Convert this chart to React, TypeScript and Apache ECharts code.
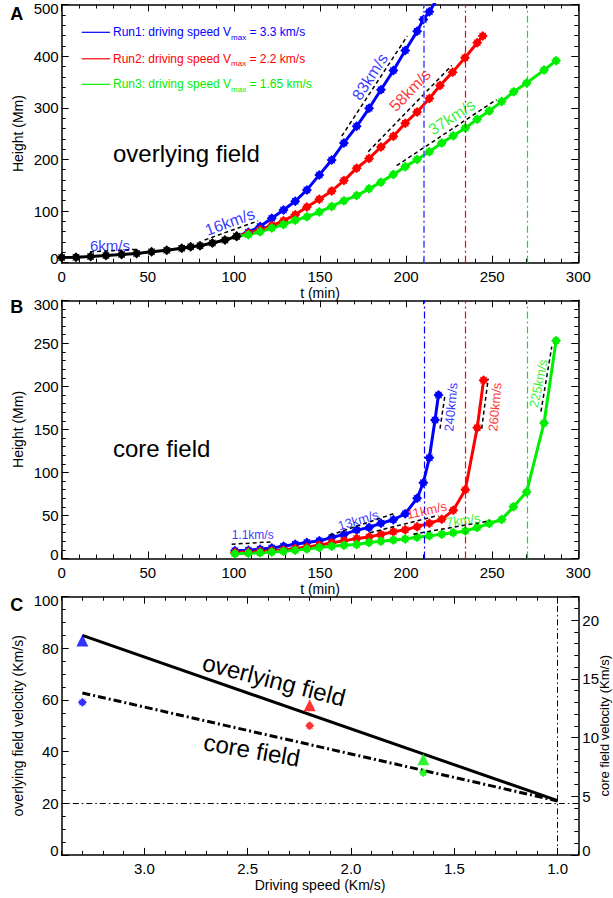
import React, { useEffect, useRef } from 'react';
import * as echarts from 'echarts';

// ---------- Panel A: overlying field height (Mm) vs t (min) ----------
const sharedOverlying: number[][] = [[0, 10], [8.3, 10.5], [16.8, 12], [25.7, 14], [34.8, 16], [43.5, 18], [52.2, 21], [61, 24], [69.7, 28], [74.9, 31], [80.3, 33], [87.5, 38], [94.8, 44], [101.6, 51]];
const run1Overlying: number[][] = [[101.6, 51], [108.4, 59], [115.2, 70], [122, 86], [128.8, 102], [135.6, 119], [142.4, 141], [149.6, 170], [156.8, 199], [163.9, 232], [171.3, 264], [178.5, 299], [185.4, 335], [192.6, 372], [199.5, 411], [206.4, 448], [210, 471], [213.5, 486], [217, 505]];
const run2Overlying: number[][] = [[101.6, 51], [108.4, 57], [115.2, 64], [122, 72], [128.8, 81], [135.6, 93], [142.4, 108], [149.6, 123], [156.8, 139], [163.9, 159], [171.3, 183], [178.5, 202], [185.4, 224], [192.6, 245], [199.5, 270], [206.4, 292], [213.5, 318], [219.7, 343], [227, 369], [234.2, 397], [241.3, 426], [244.5, 439]];
const run3Overlying: number[][] = [[101.6, 51], [108.4, 54], [115.2, 60], [122, 67], [128.8, 74], [135.6, 82], [142.4, 89], [149.6, 98], [156.8, 109], [163.9, 120], [171.3, 130], [178.5, 143], [185.4, 156], [192.6, 171], [199.5, 186], [206.4, 200], [213.5, 215], [220.7, 232], [227.4, 246], [234.4, 261], [241.3, 278], [248.3, 294], [255.5, 312], [262.5, 331], [270, 348], [280.1, 373], [287.1, 391]];

// ---------- Panel B: core field height (Mm) vs t (min) ----------
const run1Core: number[][] = [[100.6, 9], [108.4, 9.6], [115.2, 10.8], [122, 12.3], [128.8, 14.3], [135.6, 16.6], [142.4, 18.6], [149.6, 20.5], [156.8, 24.4], [163.9, 28], [171.3, 33], [178.5, 36], [185.4, 41], [192.6, 45], [199.5, 52], [206.4, 70], [210, 88], [213.5, 117], [216.8, 161], [218.8, 190]];
const run2Core: number[][] = [[100.6, 7], [108.4, 7.5], [115.2, 8.2], [122, 9], [128.8, 10], [135.6, 11.5], [142.4, 13.5], [149.6, 15.5], [156.8, 18.2], [163.9, 20.5], [171.3, 23.2], [178.5, 25.1], [185.4, 27.9], [192.6, 31], [199.5, 33.3], [206.4, 37], [213.5, 41], [220.7, 45.5], [227.4, 56], [234.4, 80], [241.3, 152], [245, 207]];
const run3Core: number[][] = [[100.6, 5.5], [108.4, 6], [115.2, 6.8], [122, 7.5], [128.8, 8.5], [135.6, 9.5], [142.4, 11], [149.6, 12.8], [156.8, 14.3], [163.9, 15.5], [171.3, 16.3], [178.5, 18.6], [185.4, 20], [192.6, 21.5], [199.5, 22.7], [206.4, 24.7], [213.5, 26.3], [220.7, 28.3], [227.4, 29.8], [234.4, 31.9], [241.3, 36], [248.3, 40.7], [255.5, 45.3], [262.3, 60], [270, 77.4], [280.1, 157.5], [287.1, 253]];

// times of the eruption onset (vertical dash-dot lines), Run1..Run3
const eruptionTimes: number[] = [210.5, 234.4, 270.4];

// linear velocity fits (dashed segments), [t, h]
const fit6: number[][] = [[16.5, 21], [44.5, 26]];
const fit16: number[][] = [[83, 44], [114, 81]];
const fit83: number[][] = [[162.6, 245], [200.7, 439]];
const fit58: number[][] = [[178, 215], [226.5, 382]];
const fit37: number[][] = [[194.5, 188], [252.6, 316]];
const fit1p1: number[][] = [[98.7, 16.6], [122.5, 19.4]];
const fit13: number[][] = [[155.8, 27], [192.6, 52]];
const fit11: number[][] = [[179, 30], [218.7, 50]];
const fit7: number[][] = [[204.2, 28.3], [248.7, 43.8]];
const fit240: number[][] = [[219.7, 151], [222.6, 190]];
const fit260: number[][] = [[243.9, 151], [247.7, 209]];
const fit225: number[][] = [[278.3, 170.6], [284.6, 246.2]];

// ---------- Panel C ----------
const drivingSpeed: number[] = [3.3, 2.2, 1.65];
const overlyingVelocity: number[] = [83, 58, 37];
const coreVelocity: number[] = [13, 11, 7];
const overlyingTrend: number[][] = [[3.3, 85], [1.0, 21]];
const coreTrend: number[][] = [[3.3, 13.8], [1.0, 4.6]];
const refVelocity = 20;
const refSpeed = 1.0;
const speedRange: number[] = [0.9, 3.4];
const speedMajorRange: number[] = [1.0, 3.0];

const BLUE = '#0000ff';
const RED = '#ff0000';
const GREEN = '#00ee00';
const FONT = 'Liberation Sans, Arial, Helvetica, sans-serif';
const STAR = 'path://M0,-10 L4,-6 L7,-7 L6,-4 L10,0 L6,4 L7,7 L4,6 L0,10 L-4,6 L-7,7 L-6,4 L-10,0 L-6,-4 L-7,-7 L-4,-6 Z';
const DASHDOT = [7, 3, 2, 3];

const axisBase = (o: any) => ({
  axisLine: { show: true, onZero: false, lineStyle: { color: '#000', width: 1.5 } },
  axisTick: { show: true, inside: true, length: 7, lineStyle: { color: '#000', width: 1 } },
  minorTick: { show: true, splitNumber: 5, length: 4, lineStyle: { color: '#000', width: 1 } },
  splitLine: { show: false },
  minorSplitLine: { show: false },
  axisLabel: { color: '#000', fontSize: 15, fontFamily: FONT, margin: 6 },
  nameTextStyle: { color: '#000', fontSize: 14, fontFamily: FONT },
  nameMoveOverlap: false,
  ...o,
});

// y labels: the end labels are nudged inwards like the original plot
const yLabel = (max: number, margin: number, show = true, hideMax = false) => ({
  show, color: '#000', fontSize: 15, fontFamily: FONT, margin, showMaxLabel: !hideMax,
  formatter: (v: number) => (v === max ? `{top|${v}}` : v === 0 ? `{bot|${v}}` : `${v}`),
  rich: {
    top: { color: '#000', fontSize: 15, fontFamily: FONT, padding: [8, 0, 0, 0] },
    bot: { color: '#000', fontSize: 15, fontFamily: FONT, padding: [0, 0, 9, 0] },
  },
});

export default function App() {
  const ref = useRef<HTMLDivElement>(null);
  useEffect(() => {
    if (!ref.current) return;
    const chart = echarts.init(ref.current, undefined, { renderer: 'svg' });

    const curve = (name: string, data: number[][], color: string, xi: number, yi: number, extra: any = {}) => ({
      type: 'line', name, data, xAxisIndex: xi, yAxisIndex: yi,
      symbol: STAR, symbolSize: 10, showSymbol: true, showAllSymbol: true,
      lineStyle: { color, width: 3 }, itemStyle: { color }, z: 3, silent: true, ...extra,
    });
    const fit = (data: number[][], xi: number, yi: number) => ({
      type: 'line', data, xAxisIndex: xi, yAxisIndex: yi, symbol: 'none',
      lineStyle: { color: '#000', width: 1.5, type: [4, 3] }, z: 4, silent: true,
    });
    const note = (text: string, pos: number[], rot: number, color: string, size: number, xi: number, yi: number) => ({
      type: 'scatter', data: [pos], xAxisIndex: xi, yAxisIndex: yi, symbolSize: 1,
      itemStyle: { color: 'transparent' }, silent: true, z: 5,
      label: { show: true, formatter: text, rotate: rot, color, fontSize: size, fontFamily: FONT, position: 'inside' },
    });
    const vline = (t: number, color: string, width: number, opacity = 1) => ({
      silent: true, symbol: ['none', 'none'], label: { show: false },
      lineStyle: { color, width, type: DASHDOT, opacity }, data: [{ xAxis: t }],
    });

    const runColors = [BLUE, RED, GREEN];

    const series: any[] = [
      // Panel A
      curve('shared', sharedOverlying, '#000', 0, 0, { z: 6 }),
      curve('Run1', run1Overlying, BLUE, 0, 0, { markLine: vline(eruptionTimes[0], '#5a5aff', 2, 0.85) }),
      curve('Run2', run2Overlying, RED, 0, 0, { markLine: vline(eruptionTimes[1], RED, 1.2) }),
      curve('Run3', run3Overlying, GREEN, 0, 0, { markLine: vline(eruptionTimes[2], GREEN, 1.2) }),
      fit(fit6, 0, 0), fit(fit16, 0, 0), fit(fit83, 0, 0), fit(fit58, 0, 0), fit(fit37, 0, 0),
      note('6km/s', [28, 34], 0, BLUE, 15, 0, 0),
      note('16km/s', [97.7, 79], 20, BLUE, 16, 0, 0),
      note('83km/s', [179, 360], 57, BLUE, 16, 0, 0),
      note('58km/s', [202.3, 334], 46, RED, 16, 0, 0),
      note('37km/s', [226.5, 282], 33, GREEN, 16, 0, 0),
      // Panel B
      curve('Run1c', run1Core, BLUE, 2, 2, { markLine: vline(eruptionTimes[0], BLUE, 1.2) }),
      curve('Run2c', run2Core, RED, 2, 2, { markLine: vline(eruptionTimes[1], RED, 1.2) }),
      curve('Run3c', run3Core, GREEN, 2, 2, { markLine: vline(eruptionTimes[2], GREEN, 1.2) }),
      fit(fit1p1, 2, 2), fit(fit13, 2, 2), fit(fit11, 2, 2), fit(fit7, 2, 2),
      fit(fit240, 2, 2), fit(fit260, 2, 2), fit(fit225, 2, 2),
      note('1.1km/s', [110.9, 27], 0, BLUE, 12, 2, 2),
      note('13km/s', [172.2, 44.5], 17, BLUE, 13, 2, 2),
      note('11km/s', [212, 56], 12, RED, 13, 2, 2),
      note('7km/s', [233.2, 44.5], 8, GREEN, 13, 2, 2),
      note('240km/s', [226, 176], 85, BLUE, 13, 2, 2),
      note('260km/s', [251.6, 176], 85, RED, 13, 2, 2),
      note('225km/s', [276.8, 203.5], 78, GREEN, 13, 2, 2),
      // Panel C
      {
        type: 'line', data: overlyingTrend, xAxisIndex: 4, yAxisIndex: 4, symbol: 'none', silent: true,
        lineStyle: { color: '#000', width: 3 },
        markLine: {
          silent: true, symbol: ['none', 'none'], label: { show: false },
          lineStyle: { color: '#000', width: 1, type: [6, 3, 1.5, 3] },
          data: [{ yAxis: refVelocity }, { xAxis: refSpeed }],
        },
      },
      {
        type: 'line', data: coreTrend, xAxisIndex: 4, yAxisIndex: 5, symbol: 'none', silent: true,
        lineStyle: { color: '#000', width: 3, type: [8, 3, 2, 3] },
      },
      {
        type: 'scatter', xAxisIndex: 4, yAxisIndex: 4, symbol: 'triangle', symbolSize: 12, silent: true, z: 5,
        data: drivingSpeed.map((s, i) => ({ value: [s, overlyingVelocity[i]], itemStyle: { color: runColors[i] } })),
      },
      {
        type: 'scatter', xAxisIndex: 4, yAxisIndex: 5, symbol: STAR, symbolSize: 9, silent: true, z: 5,
        data: drivingSpeed.map((s, i) => ({ value: [s, coreVelocity[i]], itemStyle: { color: runColors[i] } })),
      },
    ];

    const legendRows = [
      { color: BLUE, text: 'Run1: driving speed V{sub|max} = 3.3 km/s', y: 32.3 },
      { color: RED, text: 'Run2: driving speed V{sub|max} = 2.2 km/s', y: 58.8 },
      { color: GREEN, text: 'Run3: driving speed V{sub|max} = 1.65 km/s', y: 84.3 },
    ];

    const graphic: any[] = [];
    legendRows.forEach((r) => {
      graphic.push({ type: 'line', shape: { x1: 81.7, y1: r.y, x2: 110, y2: r.y }, style: { stroke: r.color, lineWidth: 1.2 }, silent: true });
      graphic.push({
        type: 'text', x: 113, y: r.y, silent: true,
        style: {
          text: r.text, fill: r.color, fontSize: 12, fontFamily: FONT, verticalAlign: 'middle', lineHeight: 18,
          rich: { sub: { fontSize: 8, fontFamily: FONT, lineHeight: 18, verticalAlign: 'bottom', fill: r.color } },
        },
      });
    });
    const label = (text: string, x: number, y: number, size: number, rot = 0, extra: any = {}) => ({
      type: 'text', x, y, rotation: rot, silent: true,
      style: { text, fill: '#000', fontSize: size, fontFamily: FONT, align: 'center', verticalAlign: 'middle', ...extra },
    });
    graphic.push(label('A', 16.7, 13.5, 18, 0, { fontWeight: 'bold' }));
    graphic.push(label('B', 16.7, 306.7, 18, 0, { fontWeight: 'bold' }));
    graphic.push(label('C', 16.7, 604.5, 18, 0, { fontWeight: 'bold' }));
    graphic.push(label('overlying field', 113, 153, 24, 0, { align: 'left' }));
    graphic.push(label('core field', 113, 448, 24, 0, { align: 'left' }));
    graphic.push(label('overlying field', 274, 680, 24, (-14.5 * Math.PI) / 180));
    graphic.push(label('core field', 252, 750, 24, (-10 * Math.PI) / 180));

    const PLOT_LEFT = 61.7;
    const PLOT_W = 516.6;
    const gridPos = (top: number) => ({ left: PLOT_LEFT, top, width: PLOT_W, height: 258.2, containLabel: false, outerBoundsMode: 'none' });
    // grid carrying only the major ticks of the driving-speed axis (1.0 .. 3.0)
    const pxPerUnit = PLOT_W / (speedRange[1] - speedRange[0]);
    const majorGrid = {
      left: PLOT_LEFT + (speedRange[1] - speedMajorRange[1]) * pxPerUnit,
      top: 596.7,
      width: (speedMajorRange[1] - speedMajorRange[0]) * pxPerUnit,
      height: 258.2,
      containLabel: false,
      outerBoundsMode: 'none',
    };

    const tAxis = (gi: number, show: boolean) =>
      axisBase({
        type: 'value', gridIndex: gi, min: 0, max: 300, interval: 50, position: show ? 'bottom' : 'top',
        name: show ? 't (min)' : '', nameLocation: 'middle', nameGap: 23,
        axisLabel: { show, color: '#000', fontSize: 15, fontFamily: FONT, margin: 6 },
      });
    const hAxis = (gi: number, max: number, interval: number, show: boolean) =>
      axisBase({
        type: 'value', gridIndex: gi, min: 0, max, interval, position: show ? 'left' : 'right',
        name: show ? 'Height (Mm)' : '', nameLocation: 'middle', nameGap: 37, nameRotate: 90,
        axisLabel: yLabel(max, 3, show),
      });
    const isHalf = (v: number) => Math.abs(v * 2 - Math.round(v * 2)) < 1e-6;
    const speedAxis = (show: boolean) =>
      axisBase({
        type: 'value', gridIndex: 2, min: speedRange[0], max: speedRange[1], interval: 0.1, inverse: true,
        position: show ? 'bottom' : 'top',
        name: show ? 'Driving speed (Km/s)' : '', nameLocation: 'middle', nameGap: 23,
        axisTick: { show: true, inside: true, length: 4, lineStyle: { color: '#000', width: 1 } },
        minorTick: { show: false },
        axisLabel: {
          show, color: '#000', fontSize: 15, fontFamily: FONT, margin: 6,
          formatter: (v: number) => (isHalf(v) && v >= speedMajorRange[0] - 1e-6 && v <= speedMajorRange[1] + 1e-6 ? v.toFixed(1) : ''),
        },
      });
    const speedMajorAxis = (bottom: boolean) => ({
      type: 'value', gridIndex: 3, min: speedMajorRange[0], max: speedMajorRange[1], interval: 0.5, inverse: true,
      position: bottom ? 'bottom' : 'top',
      axisLine: { show: false },
      axisTick: { show: true, inside: true, length: 7, lineStyle: { color: '#000', width: 1 } },
      axisLabel: { show: false },
      splitLine: { show: false },
    });

    chart.setOption({
      animation: false,
      textStyle: { fontFamily: FONT },
      grid: [gridPos(4.5), gridPos(300.3), gridPos(596.7), majorGrid],
      xAxis: [
        tAxis(0, true), tAxis(0, false), tAxis(1, true), tAxis(1, false),
        speedAxis(true), speedAxis(false), speedMajorAxis(true), speedMajorAxis(false),
      ],
      yAxis: [
        hAxis(0, 500, 100, true), hAxis(0, 500, 100, false),
        hAxis(1, 300, 50, true), hAxis(1, 300, 50, false),
        axisBase({
          type: 'value', gridIndex: 2, min: 0, max: 100, interval: 20, position: 'left',
          name: 'overlying field velocity (Km/s)', nameLocation: 'middle', nameGap: 37, nameRotate: 90,
          minorTick: { show: true, splitNumber: 4, length: 4, lineStyle: { color: '#000', width: 1 } },
          axisLabel: yLabel(100, 3),
        }),
        axisBase({
          type: 'value', gridIndex: 2, min: 0, max: 22, interval: 5, position: 'right',
          name: 'core field velocity (Km/s)', nameLocation: 'middle', nameGap: 20, nameRotate: 90,
          nameTextStyle: { color: '#000', fontSize: 13, fontFamily: FONT },
          axisLabel: yLabel(22, 4, true, true),
        }),
        { type: 'value', gridIndex: 3, min: 0, max: 1, show: false },
      ],
      series,
      graphic,
    });
    return () => chart.dispose();
  }, []);
  return <div ref={ref} style={{ position: 'absolute', left: 0, top: 0, width: 613, height: 898, background: '#fff' }} />;
}
